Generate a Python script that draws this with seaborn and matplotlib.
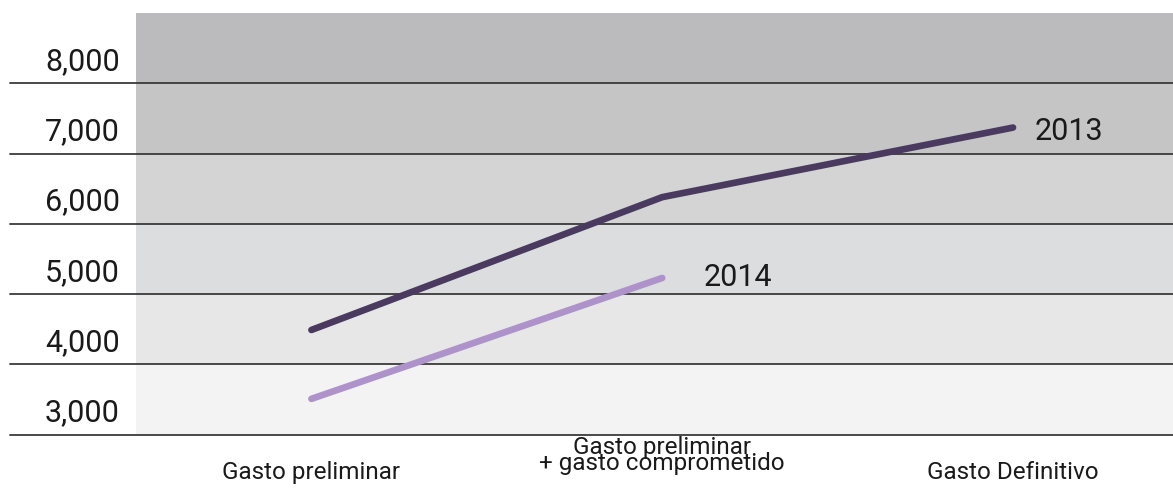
import pandas as pd
import seaborn as sns
import matplotlib.pyplot as plt
from matplotlib import transforms

# data
stages = ['Gasto preliminar', 'Gasto preliminar\n+ gasto comprometido', 'Gasto Definitivo']
values_2013 = [4490, 6380, 7370]
values_2014 = [3510, 5230]
years = ['2013', '2014']
yticks = [3000, 4000, 5000, 6000, 7000, 8000]
ytick_labels = ['3,000', '4,000', '5,000', '6,000', '7,000', '8,000']

band_colors = ['#f2f3f2', '#e7e7e7', '#dcdddf', '#d3d4d3', '#c5c5c6', '#bbbbbd']
line_colors = {'2013': '#4a3a5f', '2014': '#ae93ca'}
# label offsets in pixels (dx, dy of baseline) from each line's last point
label_offsets = {'2013': (22, -11), '2014': (41, -7)}


def build_frame():
    rows = []
    for i, v in enumerate(values_2013):
        rows.append({'pos': i, 'value': v, 'year': '2013'})
    for i, v in enumerate(values_2014):
        rows.append({'pos': i, 'value': v, 'year': '2014'})
    return pd.DataFrame(rows)


df = build_frame()

sns.set_style('white')
plt.rcParams['font.family'] = ['Roboto', 'DejaVu Sans']

W, H = 1173, 489
fig = plt.figure(figsize=(W / 100, H / 100), dpi=100)
ax_left, ax_right, ax_top, ax_bottom = 136, 1173, 14, 435.7
ax = fig.add_axes([ax_left / W, (H - ax_bottom) / H,
                   (ax_right - ax_left) / W, (ax_bottom - ax_top) / H])

# grey bands
for i, v in enumerate(yticks):
    ax.axhspan(v, v + 1000, color=band_colors[i], lw=0, zorder=0)

# horizontal rules running into the label area
xmin = (10 - ax_left) / (ax_right - ax_left)
for v in yticks:
    ax.axhline(v, xmin=xmin, xmax=1, color='#3a3a3a', lw=1.3,
               clip_on=False, zorder=1)

sns.lineplot(data=df, x='pos', y='value', hue='year', palette=line_colors,
             lw=4.8, solid_capstyle='round', legend=False, ax=ax, zorder=3)

ax.set_xlim(-0.5, 2.456)
ax.set_ylim(3000, 9000)
ax.set_xticks([])
ax.set_yticks([])
ax.set_xlabel('')
ax.set_ylabel('')
sns.despine(ax=ax, left=True, bottom=True)

# y labels sit just above their rule
ytrans = transforms.blended_transform_factory(ax.transAxes, ax.transData) + \
    transforms.ScaledTranslation(0, 14.3 / 100, fig.dpi_scale_trans)
xlab = (120 - ax_left) / (ax_right - ax_left)
for v, lab in zip(yticks, ytick_labels):
    ax.text(xlab, v, lab, transform=ytrans, ha='right', va='baseline',
            fontsize=22, color='#1a1a1a')

# x labels under the plot (baseline of last line)
for i, lab in enumerate(stages):
    drop = 43.3 if '\n' not in lab else 34
    tr = transforms.blended_transform_factory(ax.transData, ax.transAxes) + \
        transforms.ScaledTranslation(0, -drop / 100, fig.dpi_scale_trans)
    ax.text(i, 0, lab, transform=tr, ha='center', va='baseline',
            multialignment='center', linespacing=0.6,
            fontsize=17.5, color='#1a1a1a')

# series labels at the end of each line
for yr, vals in zip(years, [values_2013, values_2014]):
    dx, dy = label_offsets[yr]
    tr = ax.transData + transforms.ScaledTranslation(dx / 100, dy / 100, fig.dpi_scale_trans)
    ax.text(len(vals) - 1, vals[-1], yr, transform=tr, ha='left', va='baseline',
            fontsize=22, color='#1a1a1a')

fig.savefig('out.png', dpi=100)
